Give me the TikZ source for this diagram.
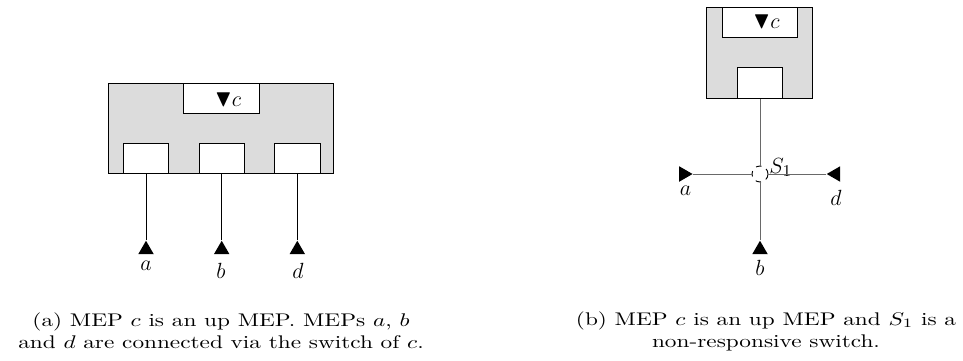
\documentclass[tikz,border=0pt]{standalone}
\usepackage{amssymb}
\usetikzlibrary{shapes.geometric}
\definecolor{chassisgray}{RGB}{220,220,220}
\definecolor{wiregray}{RGB}{105,105,105}
\newcommand\pxu{0.546pt}
\begin{document}
\begin{tikzpicture}[x=0.546pt,y=-0.546pt,
  box/.style={draw, inner sep=0pt, line width=0.5pt},
  chassis/.style={box, fill=chassisgray},
  slot/.style={box, fill=white},
  mep/.style={regular polygon, regular polygon sides=3, fill=black, draw=none,
    inner sep=0pt, minimum size=17.9*\pxu},
  lbl/.style={anchor=base, inner sep=0pt, font=\fontsize{13}{15}\selectfont},
  wire/.style={line width=0.5pt},
  caption/.style={align=center, inner sep=0pt, font=\normalsize,
    xscale=1.27, transform shape}]
\useasboundingbox (0,0) rectangle (963,360);

% ---------- (a) up MEP c with three ports ----------
\node[chassis, minimum width=225*\pxu, minimum height=90*\pxu] (chA) at (220.8,128.3) {};
\node[slot, minimum width=76*\pxu, minimum height=30*\pxu] (upA) at (221.5,98.3) {};
\node[lbl] (cA) at (228,106) {$\blacktriangledown c$};
\node[slot, minimum width=45.4*\pxu, minimum height=30*\pxu] (pA1) at (146,158.3) {};
\node[slot, minimum width=45.4*\pxu, minimum height=30*\pxu] (pA2) at (221.7,158.3) {};
\node[slot, minimum width=45.4*\pxu, minimum height=30*\pxu] (pA3) at (297.3,158.3) {};

\node[mep, anchor=north] (mA1) at (146,240) {};
\node[mep, anchor=north] (mA2) at (221.7,240) {};
\node[mep, anchor=north] (mA3) at (297.3,240) {};
\draw[wire] (pA1.south) -- (mA1.north);
\draw[wire] (pA2.south) -- (mA2.north);
\draw[wire] (pA3.south) -- (mA3.north);
\node[lbl] (la) at (146,270) {$a$};
\node[lbl] (lb) at (221,278) {$b$};
\node[lbl] (ld) at (298,278) {$d$};

\node[caption] (capA) at (221,331)
  {(a) MEP $c$ is an up MEP. MEPs $a$, $b$\\ and $d$ are connected via the switch of $c$.};

% ---------- (b) up MEP c behind the non-responsive switch S1 ----------
\node[chassis, minimum width=106*\pxu, minimum height=91*\pxu] (chB) at (759.7,52.8) {};
\node[slot, minimum width=75.4*\pxu, minimum height=30*\pxu] (upB) at (760,22.3) {};
\node[lbl] (cB) at (766.4,28) {$\blacktriangledown c$};
\node[slot, minimum width=45.4*\pxu, minimum height=30.6*\pxu] (pB) at (760,83) {};

\node[circle, draw, dashed, fill=white, line width=0.5pt, inner sep=0pt,
  minimum size=16*\pxu] (S1) at (760,174) {};
\node[lbl, anchor=base west] (s1l) at (769,173) {$S_1$};

\node[mep, shape border rotate=-90, anchor=east] (mBa) at (693.3,174) {};
\node[mep, shape border rotate=90, anchor=west] (mBd) at (826,174) {};
\node[mep, anchor=north] (mBb) at (760,240) {};
\draw[wire, draw=wiregray] (pB.south) -- (S1);
\draw[wire, draw=wiregray] (mBa.east) -- (S1);
\draw[wire, draw=wiregray] (S1) -- (mBd.west);
\draw[wire, draw=wiregray] (S1) -- (mBb.north);
\node[lbl] (lBa) at (685.5,195) {$a$};
\node[lbl] (lBd) at (836,205) {$d$};
\node[lbl] (lBb) at (760,275) {$b$};

\node[caption] (capB) at (766,331)
  {(b) MEP $c$ is an up MEP and $S_1$ is a\\ non-responsive switch.};
\end{tikzpicture}
\end{document}
